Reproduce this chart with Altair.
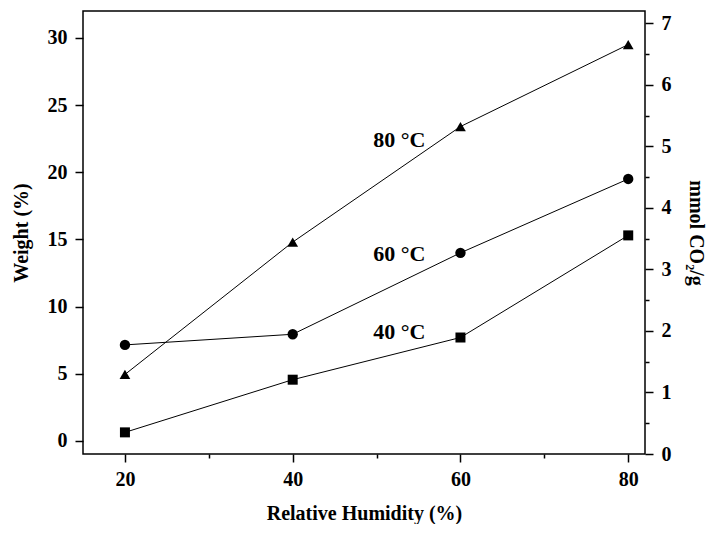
import altair as alt
import pandas as pd

rh = [20, 40, 60, 80]
w40 = [0.64, 4.56, 7.7, 15.3]
w60 = [7.15, 7.94, 14.0, 19.5]
w80 = [4.95, 14.8, 23.4, 29.5]
series = ["40 °C", "60 °C", "80 °C"]
shapes = ["square", "circle", "triangle-up"]
sizes = [100, 115, 140]

label_text = ["80 °C", "60 °C", "40 °C"]
label_x = [52.7, 52.7, 52.7]
label_y = [22.4, 13.9, 8.1]

x_ticks = [20, 30, 40, 50, 60, 70, 80]
left_ticks = [0, 2.5, 5, 7.5, 10, 12.5, 15, 17.5, 20, 22.5, 25, 27.5, 30]
right_ticks = [0, 0.5, 1, 1.5, 2, 2.5, 3, 3.5, 4, 4.5, 5, 5.5, 6, 6.5, 7]

rows = []
for name, vals in zip(series, [w40, w60, w80]):
    for x, v in zip(rh, vals):
        rows.append({"rh": x, "w": v, "s": name})
df = pd.DataFrame(rows)
lab = pd.DataFrame({"t": label_text, "x": label_x, "y": label_y})
rdf = pd.DataFrame({"m": right_ticks})

FONT = "Liberation Serif"

xscale = alt.Scale(domain=[15, 82], nice=False, zero=False)
yscale = alt.Scale(domain=[-0.97, 32.0], nice=False, zero=False)

xaxis = alt.Axis(
    values=x_ticks,
    title="Relative Humidity (%)",
    labelExpr="datum.value % 20 === 0 ? datum.label : ''",
    tickSize={"condition": {"test": "datum.value % 20 === 0", "value": 8}, "value": 4},
    grid=False, domain=False, tickColor="black", tickWidth=1.5,
    labelPadding=7, titlePadding=14,
)
yaxis = alt.Axis(
    values=left_ticks,
    title="Weight (%)",
    labelExpr="datum.value % 5 === 0 ? datum.label : ''",
    tickSize={"condition": {"test": "datum.value % 5 === 0", "value": 8}, "value": 4},
    grid=False, domain=False, tickColor="black", tickWidth=1.5,
    labelPadding=8, titlePadding=16,
)

lines = alt.Chart(df).mark_line(color="black", strokeWidth=1).encode(
    x=alt.X("rh:Q", scale=xscale, axis=xaxis),
    y=alt.Y("w:Q", scale=yscale, axis=yaxis),
    detail="s:N",
)
points = alt.Chart(df).mark_point(filled=True, color="black", opacity=1).encode(
    x=alt.X("rh:Q", scale=xscale),
    y=alt.Y("w:Q", scale=yscale),
    shape=alt.Shape("s:N", scale=alt.Scale(domain=series, range=shapes), legend=None),
    size=alt.Size("s:N", scale=alt.Scale(domain=series, range=sizes), legend=None),
)
texts = alt.Chart(lab).mark_text(font=FONT, fontWeight="bold", fontSize=22, color="black").encode(
    x=alt.X("x:Q", scale=xscale),
    y=alt.Y("y:Q", scale=yscale),
    text="t:N",
)
left = alt.layer(lines, points, texts)

right = alt.Chart(rdf).mark_tick(opacity=0).encode(
    y=alt.Y("m:Q", scale=alt.Scale(domain=[0, 7.2], nice=False, zero=False),
            axis=alt.Axis(
                orient="right",
                values=right_ticks,
                title="mmol CO₂/g",
                labelExpr="datum.value % 1 === 0 ? format(datum.value, 'd') : ''",
                tickSize={"condition": {"test": "datum.value % 1 === 0", "value": 8}, "value": 4},
                grid=False, domain=False, tickColor="black", tickWidth=1.5,
                labelPadding=8, titlePadding=14,
            )),
)

chart = alt.layer(left, right).resolve_scale(y="independent").properties(
    width=562, height=443,
    autosize=alt.AutoSizeParams(type="none"),
    padding={"left": 75, "top": 3, "right": 68, "bottom": 70},
).configure_view(
    stroke="black", strokeWidth=1.5
).configure_axis(
    labelFont=FONT, labelFontWeight="bold", labelFontSize=20, labelColor="black",
    titleFont=FONT, titleFontWeight="bold", titleFontSize=20, titleColor="black",
)

chart.save("out.html", embed_options={"renderer": "svg", "actions": False})
